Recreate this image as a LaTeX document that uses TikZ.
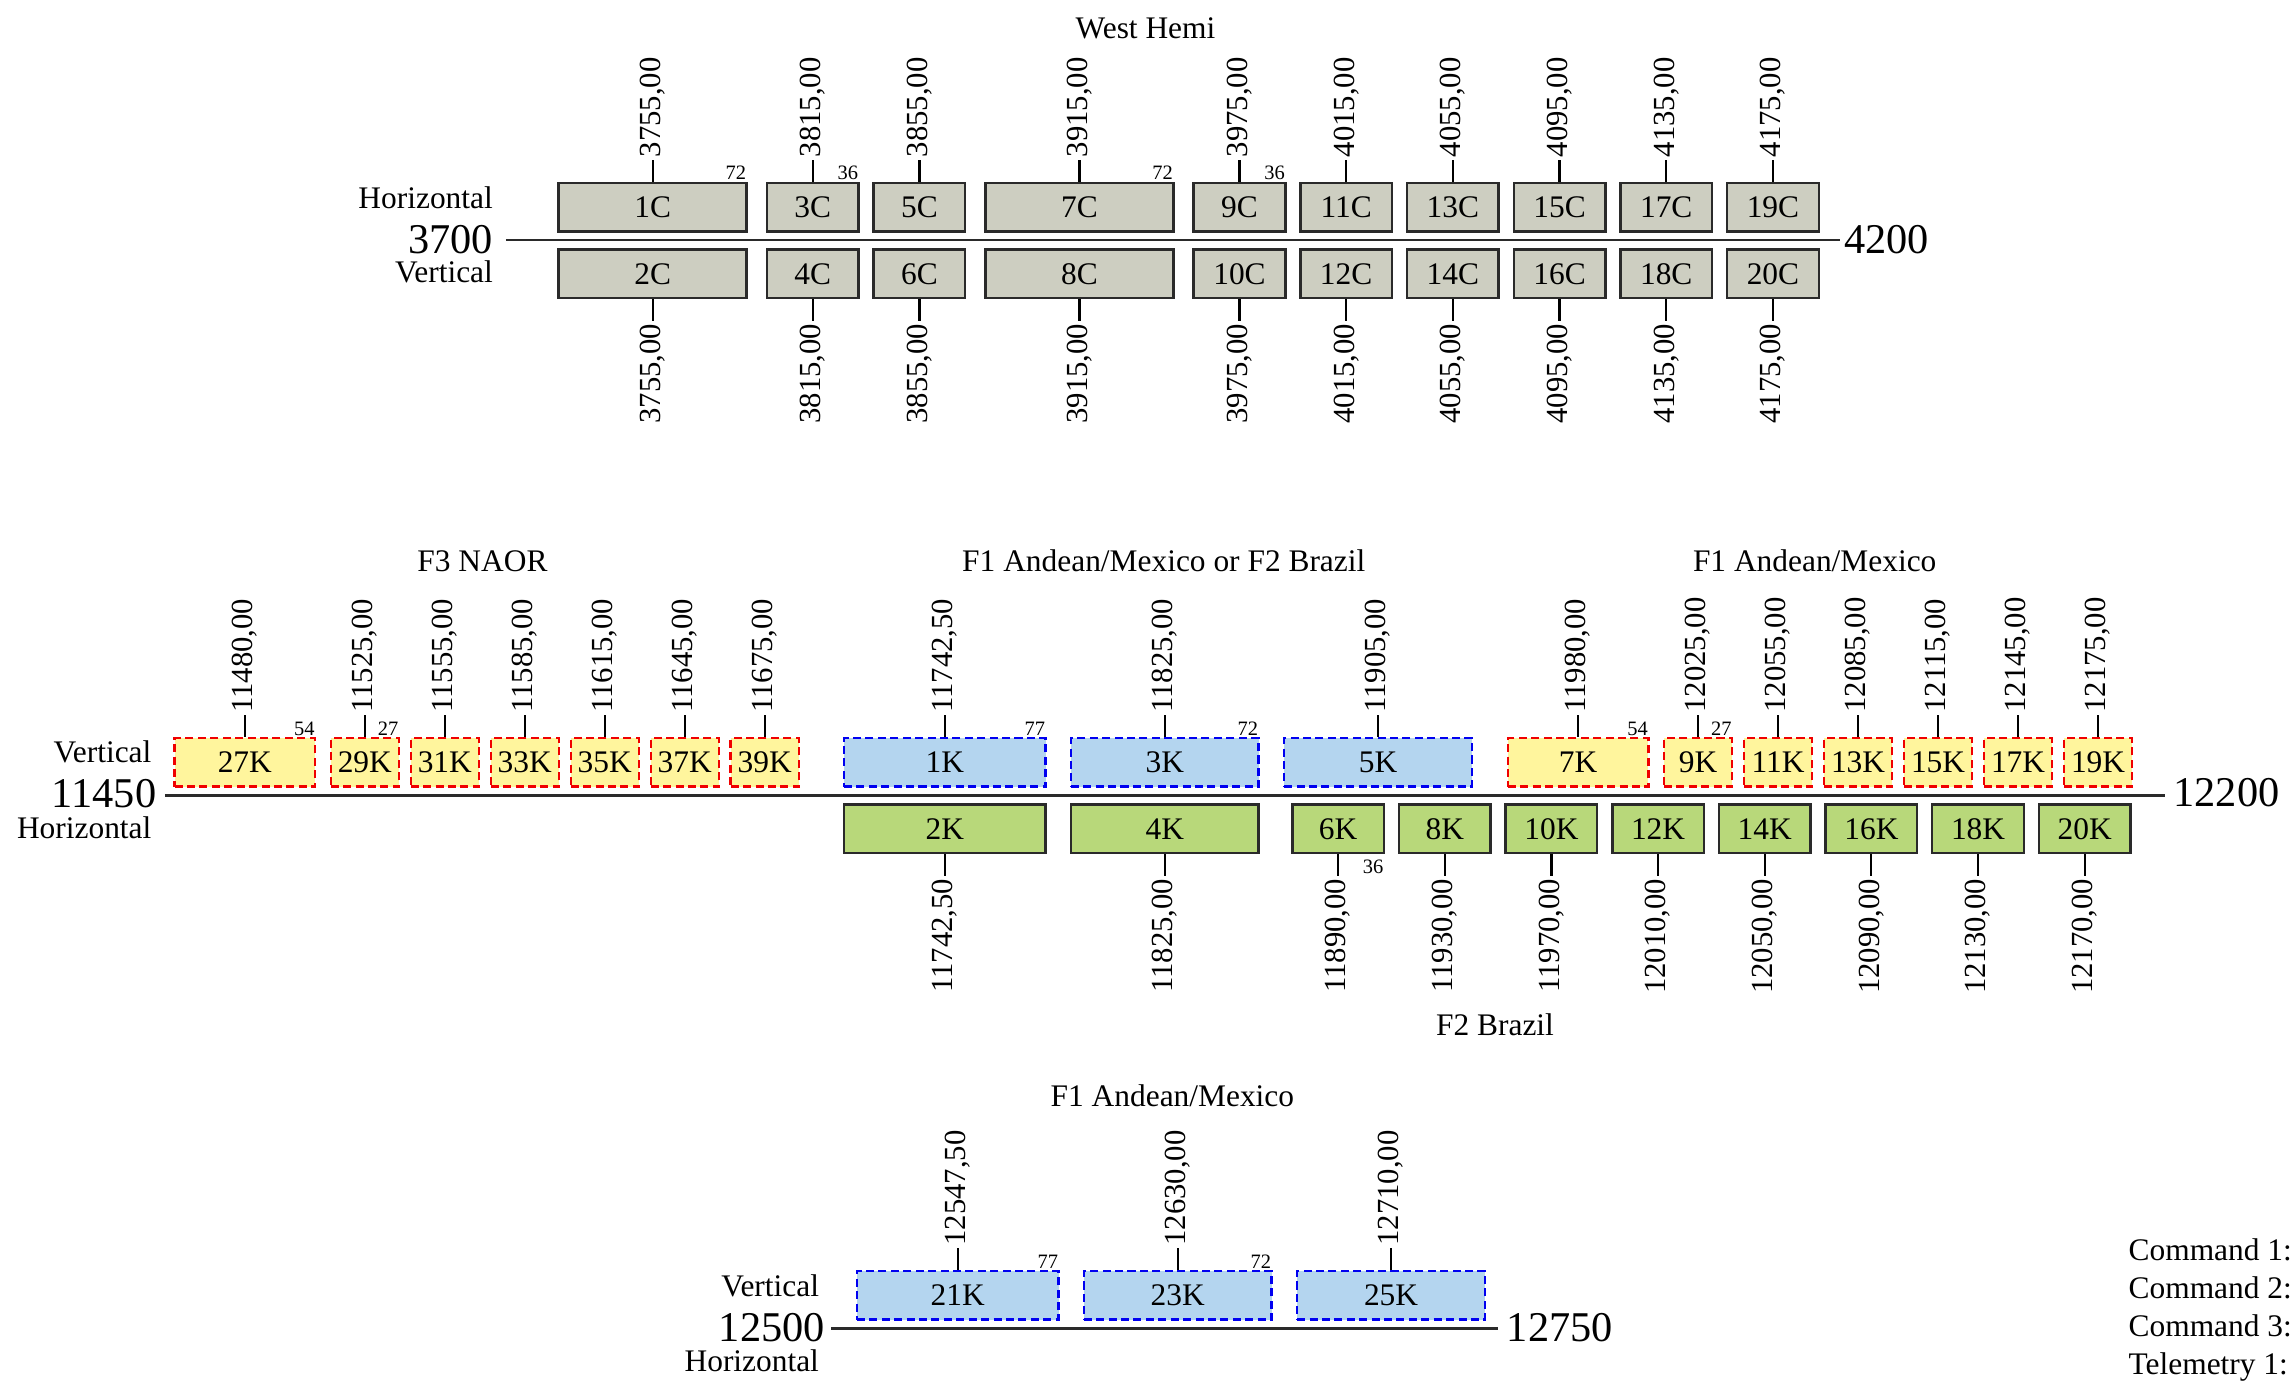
\documentclass[tikz,border=0pt]{standalone}
\usepackage{fontspec}
\setmainfont{Liberation Serif}
\definecolor{edge}{HTML}{2A2A2A}
\definecolor{cgray}{HTML}{CDCEC1}
\definecolor{cyellow}{HTML}{FFF59D}
\definecolor{clblue}{HTML}{B4D5EF}
\definecolor{cgreen}{HTML}{B8D87A}
\definecolor{cred}{HTML}{F00000}
\definecolor{cblue}{HTML}{0000F0}
\begin{document}
\begin{tikzpicture}[x=1pt,y=-1pt,
  lbl/.style={font=\fontsize{21.5}{24}\selectfont, inner sep=0pt},
  bignum/.style={font=\fontsize{29}{32}\selectfont, inner sep=0pt},
  vnum/.style={font=\fontsize{21}{24}\selectfont, rotate=90, inner sep=1.5pt},
  smallnum/.style={font=\fontsize{14}{16}\selectfont, inner sep=1pt},
  bx/.style={line width=1.7pt, minimum height=33.2pt, inner sep=0pt, font=\fontsize{21.5}{24}\selectfont},
  cbox/.style={bx, draw=edge, fill=cgray},
  gbox/.style={bx, draw=edge, fill=cgreen},
  ybox/.style={bx, draw=cred, fill=cyellow, dash pattern=on 5.5pt off 3pt},
  bbox/.style={bx, draw=cblue, fill=clblue, dash pattern=on 5.5pt off 3pt},
  stub/.style={line width=1.5pt, draw=black},
  axis/.style={line width=1.9pt, draw=edge}]
\useasboundingbox (0,0) rectangle (1568,944.5);

% ---------------- West Hemi ----------------
\node[lbl, anchor=base] (tw) at (784,26.2) {West Hemi};
\coordinate (a1) at (346.3,164.3);
\coordinate (a2) at (1259.1,164.3);
\draw[axis] (a1) -- (a2);
\node[lbl, anchor=base east] (h1) at (337.5,142.5) {Horizontal};
\node[bignum, anchor=base east] (n3700) at (337.5,173.4) {3700};
\node[lbl, anchor=base east] (v1) at (337.5,193.5) {Vertical};
\node[bignum, anchor=base west] (n4200) at (1262,173.4) {4200};

\foreach \num/\f/\w in {1/3755/128.6, 3/3815/62.7, 5/3855/62.7, 7/3915/128.6, 9/3975/62.7, 11/4015/62.7, 13/4055/62.7, 15/4095/62.7, 17/4135/62.7, 19/4175/62.7}{
  \pgfmathtruncatemacro\nb{\num+1}
  \node[cbox, minimum width=\w pt] (c\num) at ({346.3+(\f-3700)*1.8255},141.75) {\num C};
  \node[cbox, minimum width=\w pt] (c\nb) at ({346.3+(\f-3700)*1.8255},187.45) {\nb C};
  \node[vnum, anchor=west] (tc\num) at ([yshift=15pt]c\num.north) {\f,00};
  \node[vnum, anchor=east] (tc\nb) at ([yshift=-15pt]c\nb.south) {\f,00};
  \draw[stub] (c\num.north) -- (tc\num.west);
  \draw[stub] (c\nb.south) -- (tc\nb.east);
}
\node[smallnum, anchor=south east] (sc1) at (c1.north east) {72};
\node[smallnum, anchor=south east] (sc3) at (c3.north east) {36};
\node[smallnum, anchor=south east] (sc7) at (c7.north east) {72};
\node[smallnum, anchor=south east] (sc9) at (c9.north east) {36};

% ---------------- Middle band ----------------
\node[lbl, anchor=base] (tf3) at (330.2,391.3) {F3 NAOR};
\node[lbl, anchor=base] (tf12) at (796.5,391.3) {F1 Andean/Mexico or F2 Brazil};
\node[lbl, anchor=base] (tf1) at (1242,391.3) {F1 Andean/Mexico};
\node[lbl, anchor=base] (tf2) at (1023.2,709) {F2 Brazil};
\coordinate (b1) at (112.8,544.5);
\coordinate (b2) at (1481.6,544.5);
\draw[axis] (b1) -- (b2);
\node[lbl, anchor=base east] (v2) at (103.8,522) {Vertical};
\node[bignum, anchor=base east] (n11450) at (107.2,552.6) {11450};
\node[lbl, anchor=base east] (h2) at (103.8,573.6) {Horizontal};
\node[bignum, anchor=base west] (n12200) at (1487.4,552.1) {12200};

\foreach \num/\f/\w/\s in {27/11480/96.1/{11480,00}, 29/11525/46.6/{11525,00}, 31/11555/46.6/{11555,00}, 33/11585/46.6/{11585,00}, 35/11615/46.6/{11615,00}, 37/11645/46.6/{11645,00}, 39/11675/46.6/{11675,00}, 7/11980/96.1/{11980,00}, 9/12025/46.6/{12025,00}, 11/12055/46.6/{12055,00}, 13/12085/46.6/{12085,00}, 15/12115/46.6/{12115,00}, 17/12145/46.6/{12145,00}, 19/12175/46.6/{12175,00}}{
  \node[ybox, minimum width=\w pt] (k\num) at ({112.8+(\f-11450)*1.825},521.85) {\num K};
  \node[vnum, anchor=west] (tk\num) at ([yshift=15pt]k\num.north) {\s};
  \draw[stub] (k\num.north) -- (tk\num.west);
}
\foreach \num/\f/\w/\s in {1/11742.5/138/{11742,50}, 3/11825/128.6/{11825,00}, 5/11905/128.6/{11905,00}}{
  \node[bbox, minimum width=\w pt] (k\num) at ({112.8+(\f-11450)*1.825},521.85) {\num K};
  \node[vnum, anchor=west] (tk\num) at ([yshift=15pt]k\num.north) {\s};
  \draw[stub] (k\num.north) -- (tk\num.west);
}
\foreach \num/\f/\w/\s in {2/11742.5/138/{11742,50}, 4/11825/128.6/{11825,00}, 6/11890/62.7/{11890,00}, 8/11930/62.7/{11930,00}, 10/11970/62.7/{11970,00}, 12/12010/62.7/{12010,00}, 14/12050/62.7/{12050,00}, 16/12090/62.7/{12090,00}, 18/12130/62.7/{12130,00}, 20/12170/62.7/{12170,00}}{
  \node[gbox, minimum width=\w pt] (k\num) at ({112.8+(\f-11450)*1.825},567.25) {\num K};
  \node[vnum, anchor=east] (tk\num) at ([yshift=-15pt]k\num.south) {\s};
  \draw[stub] (k\num.south) -- (tk\num.east);
}
\node[smallnum, anchor=south east] (sk27) at (k27.north east) {54};
\node[smallnum, anchor=south east] (sk29) at (k29.north east) {27};
\node[smallnum, anchor=south east] (sk1) at (k1.north east) {77};
\node[smallnum, anchor=south east] (sk3) at (k3.north east) {72};
\node[smallnum, anchor=south east] (sk7) at (k7.north east) {54};
\node[smallnum, anchor=south east] (sk9) at (k9.north east) {27};
\node[smallnum, anchor=north east] (sk6) at ([yshift=-3pt]k6.south east) {36};

% ---------------- Bottom band ----------------
\node[lbl, anchor=base] (tb1) at (802.4,757) {F1 Andean/Mexico};
\coordinate (c1a) at (568.8,909);
\coordinate (c2a) at (1025.1,909);
\draw[axis] (c1a) -- (c2a);
\node[lbl, anchor=base east] (v3) at (560.7,887.5) {Vertical};
\node[bignum, anchor=base east] (n12500) at (564.7,918.3) {12500};
\node[lbl, anchor=base east] (h3) at (560.7,938.8) {Horizontal};
\node[bignum, anchor=base west] (n12750) at (1031.2,918.3) {12750};
\foreach \num/\f/\w/\s in {21/12547.5/138/{12547,50}, 23/12630/128.6/{12630,00}, 25/12710/128.6/{12710,00}}{
  \node[bbox, minimum width=\w pt] (m\num) at ({568.8+(\f-12500)*1.825},886.55) {\num K};
  \node[vnum, anchor=west] (tm\num) at ([yshift=15pt]m\num.north) {\s};
  \draw[stub] (m\num.north) -- (tm\num.west);
}
\node[smallnum, anchor=south east] (sm21) at (m21.north east) {77};
\node[smallnum, anchor=south east] (sm23) at (m23.north east) {72};

% ---------------- Legend (cut at page edge) ----------------
\node[lbl, anchor=base west] (cmd1) at (1456.7,863) {Command 1:};
\node[lbl, anchor=base west] (cmd2) at (1456.7,888.6) {Command 2:};
\node[lbl, anchor=base west] (cmd3) at (1456.7,914.8) {Command 3:};
\node[lbl, anchor=base west] (tlm1) at (1456.7,941) {Telemetry 1:};
\end{tikzpicture}
\end{document}
